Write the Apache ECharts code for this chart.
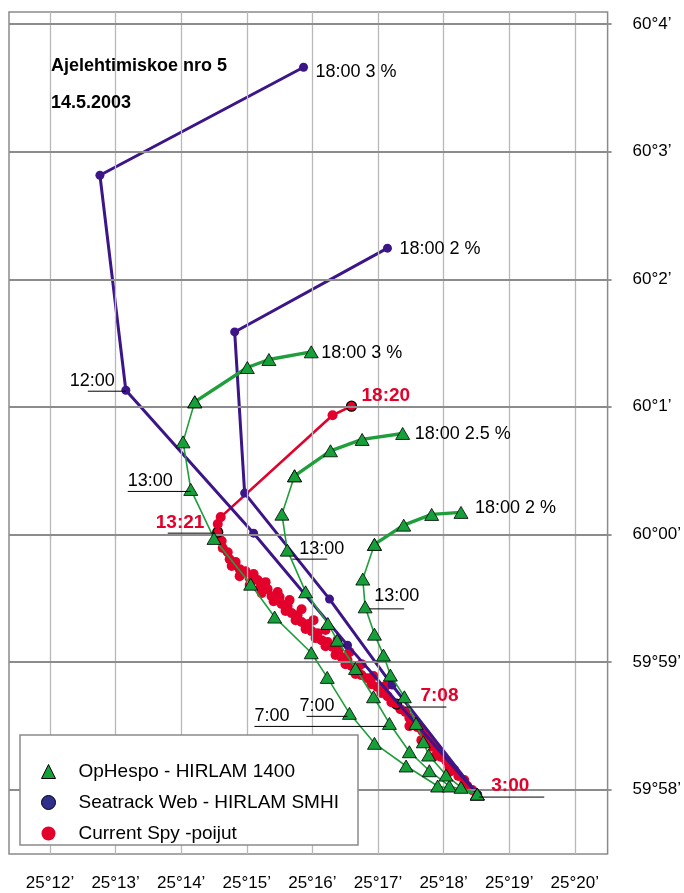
<!DOCTYPE html>
<html>
<head>
<meta charset="utf-8">
<script src="https://cdn.jsdelivr.net/npm/echarts@6/dist/echarts.min.js"></script>
<style>
  html, body { margin: 0; padding: 0; background: #fff; }
  #chart { width: 684px; height: 893px; }
</style>
</head>
<body>
<div id="chart"></div>
<script>
// Longitude values are minutes east of 25°, latitude values are minutes relative to 60°00'.
const lonTicks = [12, 13, 14, 15, 16, 17, 18, 19, 20];
const latTicks = [-2, -1, 0, 1, 2, 3, 4];

// OpHespo (HIRLAM 1400) hourly drift forecasts 3:00 … 18:00, windage 3 %, 2.5 % and 2 %
const opHespo3 = [
  [18.513, -2.037], [17.909, -1.974], [17.428, -1.817], [16.946, -1.639], [16.565, -1.404],
  [16.226, -1.122], [15.982, -0.929], [15.424, -0.649], [15.059, -0.391], [14.500, -0.032],
  [14.146, 0.352], [14.028, 0.725], [14.207, 1.039], [15.008, 1.308], [15.337, 1.371], [15.982, 1.431]
];
const opHespo25 = [
  [18.513, -2.037], [18.087, -1.974], [17.783, -1.854], [17.478, -1.705], [17.174, -1.483],
  [16.931, -1.274], [16.657, -1.052], [16.378, -0.830], [16.235, -0.699], [15.896, -0.451],
  [15.617, -0.124], [15.535, 0.158], [15.728, 0.459], [16.276, 0.655], [16.758, 0.744], [17.376, 0.791]
];
const opHespo2 = [
  [18.513, -2.037], [18.265, -1.984], [18.037, -1.888], [17.772, -1.731], [17.691, -1.627],
  [17.580, -1.483], [17.402, -1.274], [17.189, -1.104], [17.083, -0.947], [16.946, -0.783],
  [16.804, -0.569], [16.768, -0.351], [16.946, -0.079], [17.392, 0.072], [17.818, 0.156], [18.265, 0.172]
];

// Seatrack Web (HIRLAM SMHI) trajectories, windage 3 % and 2 %
const seatrack3 = [
  [18.513, -2.037], [16.535, -0.869], [15.104, 0.009], [13.156, 1.130], [12.761, 2.816], [15.865, 3.663]
];
const seatrack2 = [
  [18.513, -2.037], [17.215, -1.182], [16.261, -0.508], [14.967, 0.323], [14.815, 1.587], [17.144, 2.244]
];

// Current Spy buoy fixes from 3:00 to 13:21
const buoyFixes = [
  [18.513, -2.045], [18.437, -2.006], [18.361, -1.974], [18.315, -1.927], [18.224, -1.896],
  [18.163, -1.849], [18.087, -1.825], [18.041, -1.778], [17.965, -1.747], [17.920, -1.700],
  [17.844, -1.668], [17.798, -1.621], [17.722, -1.590], [17.676, -1.543], [17.600, -1.512],
  [17.539, -1.465], [17.478, -1.441], [17.418, -1.394], [17.341, -1.371], [17.281, -1.331],
  [17.204, -1.316], [17.144, -1.269], [17.052, -1.245], [16.991, -1.198], [16.900, -1.175],
  [16.839, -1.128], [16.748, -1.104], [16.687, -1.057], [16.596, -1.033], [16.535, -0.986],
  [16.444, -0.963], [16.398, -0.908], [16.307, -0.884], [16.231, -0.845], [16.139, -0.830],
  [16.078, -0.775], [15.987, -0.759], [15.941, -0.704], [15.835, -0.688], [15.774, -0.634],
  [15.683, -0.618], [15.622, -0.563], [15.530, -0.547], [15.500, -0.492], [15.378, -0.485],
  [15.317, -0.430], [15.211, -0.414], [15.165, -0.359], [15.044, -0.344], [14.983, -0.289],
  [14.891, -0.273], [14.830, -0.218], [14.739, -0.195], [14.709, -0.140], [14.633, -0.108],
  [14.617, -0.053], [14.572, -0.022],
  [14.770, -0.249], [14.891, -0.328], [15.044, -0.398], [15.226, -0.461], [15.409, -0.524],
  [15.591, -0.602], [15.744, -0.673], [15.896, -0.743], [16.048, -0.814], [16.200, -0.877],
  [16.352, -0.947], [16.504, -1.018], [16.657, -1.096],
  [15.104, -0.312], [15.287, -0.375], [15.470, -0.453], [15.652, -0.516], [15.835, -0.587],
  [16.017, -0.673], [16.200, -0.751], [16.383, -0.830], [16.565, -0.924], [16.748, -1.018],
  [16.931, -1.112], [17.113, -1.190],
  [17.478, -1.504], [17.661, -1.614], [17.874, -1.739], [18.087, -1.864], [18.300, -1.974]
];
const fix708 = 19;   // index of the 7:08 fix
// Buoy track from 13:21 to 18:20
const buoyTail = [[14.557, 0.017], [14.557, 0.080], [14.602, 0.135], [16.307, 0.934], [16.596, 1.005]];

const FONT = '"Liberation Sans", Arial, Helvetica, sans-serif';
const GREEN = '#15a03a';
const GREEN_LINE = '#1f9e3b';
const PURPLE = '#3c1588';
const RED = '#e3002b';
const NAME_OP = 'OpHespo - HIRLAM 1400';
const NAME_ST = 'Seatrack Web - HIRLAM SMHI';
const NAME_CS = 'Current Spy -poijut';

// Time tags: text and underline placed in pixels relative to the tagged point
const tags = [
  { src: seatrack3, i: 3, text: '12:00', tx: -11, ty: -9, align: 'right', u: [-38, 0], dy: 1 },
  { src: seatrack3, i: 5, text: '18:00 3 %', tx: 12, ty: 5 },
  { src: seatrack2, i: 5, text: '18:00 2 %', tx: 12, ty: 1 },
  { src: opHespo3, i: 15, text: '18:00 3 %', tx: 10, ty: 1 },
  { src: opHespo25, i: 15, text: '18:00 2.5 %', tx: 12, ty: 1 },
  { src: opHespo2, i: 15, text: '18:00 2 %', tx: 14, ty: -4 },
  { src: opHespo3, i: 10, text: '13:00', tx: -63, ty: -8, u: [-63, 0], dy: 2 },
  { src: opHespo25, i: 10, text: '13:00', tx: 12, ty: -1, u: [5, 40], dy: 9 },
  { src: opHespo2, i: 10, text: '13:00', tx: 9, ty: -11, u: [4, 39], dy: 2 },
  { src: opHespo3, i: 4, text: '7:00', tx: -50, ty: -7, u: [-43, -2], dy: 3 },
  { src: opHespo25, i: 4, text: '7:00', tx: -135, ty: -7, u: [-135, -3], dy: 3 },
  { src: buoyTail, i: 0, text: '13:21', tx: -62, ty: -9, u: [-50, -3], dy: 1, red: true },
  { src: buoyTail, i: 4, text: '18:20', tx: 10, ty: -10, red: true },
  { src: buoyFixes, i: fix708, text: '7:08', tx: 24, ty: -8, u: [8, 50], dy: 3, red: true },
  { src: buoyFixes, i: 0, text: '3:00', tx: 14, ty: -9, u: [2, 67], dy: 2, red: true }
];

function greenTrack(data) {
  const common = {
    type: 'line', name: NAME_OP, z: 5,
    symbol: 'triangle', symbolSize: [14, 12],
    itemStyle: { color: GREEN, borderColor: '#000', borderWidth: 0.8 }
  };
  return [
    Object.assign({}, common, { data: data.slice(0, 13), lineStyle: { color: GREEN_LINE, width: 1.6 } }),
    Object.assign({}, common, { data: data.slice(12), lineStyle: { color: GREEN_LINE, width: 3.4 } })
  ];
}

function seatrack(data) {
  return {
    type: 'line', name: NAME_ST, z: 4, data: data,
    symbol: 'circle', symbolSize: 9,
    itemStyle: { color: PURPLE },
    lineStyle: { color: PURPLE, width: 3 }
  };
}

const outlined = { color: RED, borderColor: '#000', borderWidth: 1.3, opacity: 1 };

const chart = echarts.init(document.getElementById('chart'), null, { renderer: 'canvas' });
chart.setOption({
  animation: false,
  backgroundColor: '#fff',
  textStyle: { fontFamily: FONT },
  title: {
    text: 'Ajelehtimiskoe nro 5',
    subtext: '14.5.2003',
    left: 46, top: 52, itemGap: 19,
    textStyle: { fontFamily: FONT, fontSize: 18, fontWeight: 'bold', color: '#000' },
    subtextStyle: { fontFamily: FONT, fontSize: 18, fontWeight: 'bold', color: '#000' }
  },
  grid: {
    left: 9, right: 76, top: 12, bottom: 39,
    show: true, borderColor: '#8a8a8a', borderWidth: 1.5, backgroundColor: '#fff'
  },
  xAxis: {
    type: 'value', min: 11.375, max: 20.5,
    axisLine: { show: false },
    splitLine: { show: false },
    axisTick: { show: true, customValues: lonTicks, length: 5, lineStyle: { color: '#8a8a8a', width: 1.2 } },
    axisLabel: {
      customValues: lonTicks, margin: 21, fontSize: 17, color: '#000', fontFamily: FONT,
      formatter: v => '25°' + v + '’'
    }
  },
  yAxis: {
    type: 'value', position: 'right', min: -2.507, max: 4.096,
    axisLine: { show: false },
    splitLine: { show: false },
    axisTick: { show: true, customValues: latTicks, length: 4, lineStyle: { color: '#8a8a8a', width: 1.8 } },
    axisLabel: {
      customValues: latTicks, margin: 25, fontSize: 17, color: '#000', fontFamily: FONT,
      formatter: v => v >= 0 ? '60°' + (v === 0 ? '00' : v) + '’' : '59°' + (60 + v) + '’'
    }
  },
  legend: {
    orient: 'vertical', left: 36, top: 757, itemWidth: 14, itemHeight: 14, itemGap: 12,
    selectedMode: false, z: 10,
    textStyle: { fontFamily: FONT, fontSize: 19, color: '#000', padding: [0, 0, 0, 18] },
    data: [
      { name: NAME_OP, icon: 'triangle', itemStyle: { color: GREEN, borderColor: '#000', borderWidth: 1 } },
      { name: NAME_ST, icon: 'circle', itemStyle: { color: '#2f2f8c', borderColor: '#000', borderWidth: 1 } },
      { name: NAME_CS, icon: 'circle', itemStyle: { color: RED, borderWidth: 0, opacity: 1 } }
    ]
  },
  graphic: [{
    type: 'rect', z: 8, silent: true,
    shape: { x: 20, y: 735, width: 338, height: 110 },
    style: { fill: '#fff', stroke: '#8a8a8a', lineWidth: 1.5 }
  }],
  series: [
    // coordinate grid
    {
      type: 'line', name: 'grid', data: [], z: 1, silent: true,
      markLine: {
        silent: true, symbol: ['none', 'none'], label: { show: false }, animation: false,
        data: lonTicks.map(v => ({ xAxis: v, lineStyle: { color: '#b8b8b8', width: 1.3, type: 'solid' } }))
          .concat(latTicks.map(v => ({ yAxis: v, lineStyle: { color: '#8c8c8c', width: 2, type: 'solid' } })))
      }
    },
    {
      type: 'scatter', name: NAME_CS, z: 3, symbol: 'circle', symbolSize: 10,
      itemStyle: { color: RED, opacity: 1 },
      data: buoyFixes.map((p, k) => k === fix708 ? { value: p, itemStyle: outlined } : p)
    },
    {
      type: 'line', name: NAME_CS, z: 3, symbol: 'circle', symbolSize: 10,
      itemStyle: { color: RED, opacity: 1 },
      lineStyle: { color: RED, width: 2.6 },
      data: buoyTail.map((p, k) => (k === 0 || k === buoyTail.length - 1) ? { value: p, itemStyle: outlined } : p)
    },
    seatrack(seatrack3),
    seatrack(seatrack2),
    ...greenTrack(opHespo3),
    ...greenTrack(opHespo25),
    ...greenTrack(opHespo2),
    {
      type: 'custom', name: 'tags', z: 7, silent: true, clip: false,
      encode: { x: 0, y: 1 },
      data: tags.map(t => t.src[t.i]),
      renderItem: function (params, api) {
        const t = tags[params.dataIndex];
        const p = api.coord([api.value(0), api.value(1)]);
        const children = [];
        if (t.u) {
          children.push({
            type: 'line',
            shape: { x1: p[0] + t.u[0], y1: p[1] + t.dy, x2: p[0] + t.u[1], y2: p[1] + t.dy },
            style: { stroke: '#000', lineWidth: 1 }
          });
        }
        children.push({
          type: 'text', x: p[0] + t.tx, y: p[1] + t.ty,
          style: {
            text: t.text,
            fill: t.red ? RED : '#000',
            font: (t.red ? 'bold 19px ' : '18px ') + FONT,
            align: t.align || 'left',
            verticalAlign: 'middle'
          }
        });
        return { type: 'group', children: children };
      }
    }
  ]
});
</script>
</body>
</html>
